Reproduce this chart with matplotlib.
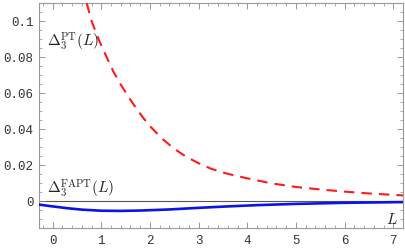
import numpy as np
import matplotlib
matplotlib.use("Agg")
import matplotlib.pyplot as plt
from matplotlib.ticker import MultipleLocator

plt.rcParams['mathtext.fontset'] = 'cm'

# Delta_3^PT(L), red dashed
L_pt = [0.70, 0.80, 0.95, 1.10, 1.25, 1.40, 1.55, 1.70, 1.85, 2.00, 2.25, 2.50,
        2.75, 3.00, 3.25, 3.50, 3.75, 4.00, 4.50, 5.00, 5.50, 6.00, 6.50, 7.20]
d_pt = [0.110, 0.100, 0.0895, 0.0805, 0.0718, 0.0647, 0.0582, 0.0522, 0.0466, 0.0416, 0.0346, 0.0290,
        0.0245, 0.0210, 0.0180, 0.0158, 0.0141, 0.0126, 0.0098, 0.0078, 0.0064, 0.0052, 0.0042, 0.0031]

# Delta_3^FAPT(L), blue solid
L_fapt = [-0.28, 0.0, 0.3, 0.6, 1.0, 1.4, 1.8, 2.4, 3.0, 3.6, 4.2, 5.0, 6.0, 7.2]
d_fapt = [-0.0020, -0.0030, -0.0040, -0.0048, -0.0054, -0.0055, -0.0053, -0.0047,
          -0.0038, -0.0030, -0.0023, -0.0016, -0.0010, -0.0006]

x_ticks = [0, 1, 2, 3, 4, 5, 6, 7]
y_ticks = [0, 0.02, 0.04, 0.06, 0.08, 0.1]
y_labels = ['0', '0.02', '0.04', '0.06', '0.08', '0.1']

fig = plt.figure(figsize=(4.05, 2.51), dpi=100)
ax = fig.add_axes([39 / 405, 1 - 229 / 251, 364 / 405, 225 / 251])

ax.axhline(0, color='#555555', lw=0.8, zorder=1)
ax.plot(L_fapt, d_fapt, color='#0a14e6', lw=1.9, solid_capstyle='butt', zorder=3)
ax.plot(L_pt, d_pt, color='#ff1a1a', lw=1.5, dashes=(5, 3.4), zorder=3)

ax.set_xlim(-0.28, 7.2)
ax.set_ylim(-0.015, 0.11)

ax.set_xticks(x_ticks)
ax.set_yticks(y_ticks)
ax.set_yticklabels(y_labels)
ax.xaxis.set_minor_locator(MultipleLocator(0.2))
ax.yaxis.set_minor_locator(MultipleLocator(0.005))
ax.tick_params(which='both', direction='in', top=True, right=True, color='#888888',
               labelsize=9, pad=4)
ax.tick_params(which='major', length=4, width=0.6)
ax.tick_params(which='minor', length=2, width=0.5)
for lab in ax.get_xticklabels() + ax.get_yticklabels():
    lab.set_family('Liberation Mono')
    lab.set_color('#333333')
for sp in ax.spines.values():
    sp.set_color('#999999')
    sp.set_linewidth(0.8)

ax.text(47 / 405, 1 - 42 / 251, r'$\Delta_3^{\rm PT}(L)$', transform=fig.transFigure,
        fontsize=11, va='center', ha='left', color='#222222')
ax.text(47 / 405, 1 - 189 / 251, r'$\Delta_3^{\rm FAPT}(L)$', transform=fig.transFigure,
        fontsize=11, va='center', ha='left', color='#222222')
ax.text(392 / 405, 1 - 220 / 251, r'$L$', transform=fig.transFigure,
        fontsize=11, va='center', ha='center', color='#222222')

fig.savefig('out.png', dpi=100)
